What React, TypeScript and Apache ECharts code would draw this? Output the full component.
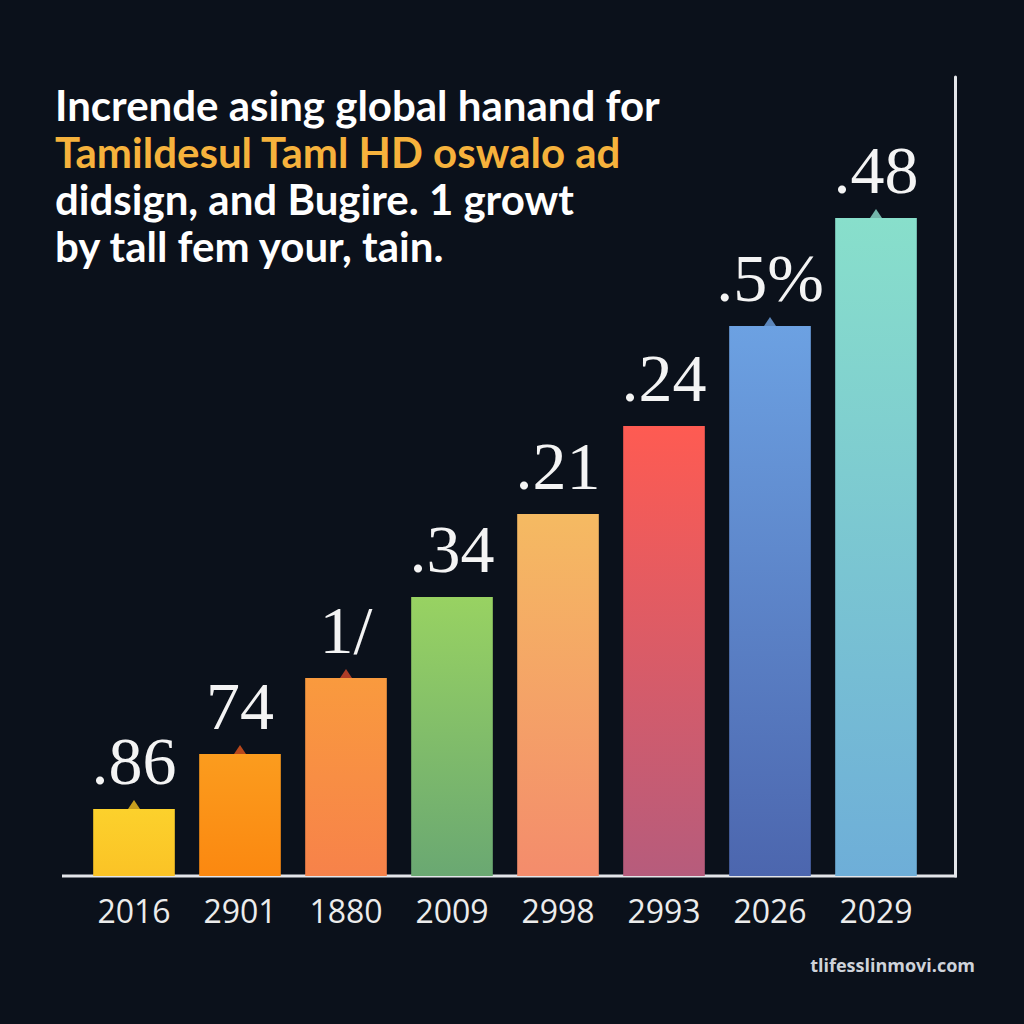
import React, { useEffect, useRef } from "react";
import * as echarts from "echarts";

const categories = ["2016", "2901", "1880", "2009", "2998", "2993", "2026", "2029"];
const values = [6.7, 12.2, 19.8, 27.9, 36.2, 45.0, 55.0, 65.8];
const valueLabels = [".86", "74", "1/", ".34", ".21", ".24", ".5%", ".48"];
const barTopColors = ["#fcd12c", "#fb9c1e", "#f99a3e", "#98d262", "#f5ba62", "#fe5b52", "#6ca1e2", "#88dfcb"];
const barBottomColors = ["#fbc326", "#fb8810", "#f7824a", "#6aa872", "#f48c6c", "#b65c7c", "#4c66ae", "#6eaed8"];
const caretColors = ["#f6c21f", "#e3561c", "#d8482a", "", "", "", "#70a4e4", "#8fe0cf"];

const titleLines = [
  { text: "Incrende asing global hanand for", style: "w" },
  { text: "Tamildesul Taml HD oswalo ad", style: "o" },
  { text: "didsign, and Bugire. 1 growt", style: "w" },
  { text: "by tall fem your, tain.", style: "w" },
];
const watermark = "tlifesslinmovi.com";

export default function App() {
  const ref = useRef<HTMLDivElement>(null);
  useEffect(() => {
    document.body.style.margin = "0";
    document.body.style.background = "#0b111b";
    const chart = echarts.init(ref.current!, undefined, { renderer: "svg" });
    const gridLeft = 81;
    const gridRight = 95;
    const gridTop = 77;
    const gridBottom = 148;
    chart.setOption({
      animation: false,
      backgroundColor: "#0b111b",
      title: {
        left: 55,
        top: 81,
        padding: 0,
        text: titleLines.map((l) => `{${l.style}|${l.text}}`).join("\n"),
        textStyle: {
          rich: {
            w: { color: "#ffffff", fontFamily: "Lato", fontWeight: 700, fontSize: 42, lineHeight: 47 },
            o: { color: "#f6b23c", fontFamily: "Lato", fontWeight: 700, fontSize: 42, lineHeight: 47 },
          },
        },
      },
      grid: { left: gridLeft, right: gridRight, top: gridTop, bottom: gridBottom },
      xAxis: {
        type: "category",
        data: categories,
        axisLine: { show: false },
        axisTick: { show: false },
        axisLabel: {
          color: "#ececec",
          fontFamily: "Open Sans",
          fontSize: 32,
          margin: 18,
        },
      },
      yAxis: {
        type: "value",
        position: "right",
        offset: 26,
        min: 0,
        max: 79.9,
        axisLine: { show: true, lineStyle: { color: "#e4e6ea", width: 3 } },
        axisTick: { show: false },
        axisLabel: { show: false },
        splitLine: { show: false },
      },
      series: [
        {
          type: "bar",
          barCategoryGap: "23%",
          data: values.map((v, i) => ({
            value: v,
            itemStyle: {
              color: new echarts.graphic.LinearGradient(0, 0, 0, 1, [
                { offset: 0, color: barTopColors[i] },
                { offset: 1, color: barBottomColors[i] },
              ]),
            },
          })),
          label: {
            show: true,
            position: "top",
            distance: 14,
            color: "#f4f4f4",
            fontFamily: "Liberation Serif",
            fontSize: 68,
            formatter: (p: any) => valueLabels[p.dataIndex],
          },
        },
        {
          type: "scatter",
          symbol: "triangle",
          symbolSize: [12, 9],
          symbolOffset: [0, "-50%"],
          z: 3,
          data: values.map((v, i) =>
            caretColors[i]
              ? { value: v, itemStyle: { color: caretColors[i] } }
              : { value: "-" }
          ),
        },
      ],
      graphic: [
        {
          type: "line",
          shape: { x1: 62, y1: 1024 - gridBottom, x2: 957, y2: 1024 - gridBottom },
          style: { stroke: "#e4e6ea", lineWidth: 3 },
        },
        {
          type: "text",
          right: 49,
          top: 956,
          style: {
            text: watermark,
            fill: "#cfd3da",
            font: "bold 18px 'Open Sans'",
          },
        },
      ],
    });
    return () => chart.dispose();
  }, []);
  return (
    <div
      ref={ref}
      style={{ position: "fixed", left: 0, top: 0, width: 1024, height: 1024 }}
    />
  );
}
